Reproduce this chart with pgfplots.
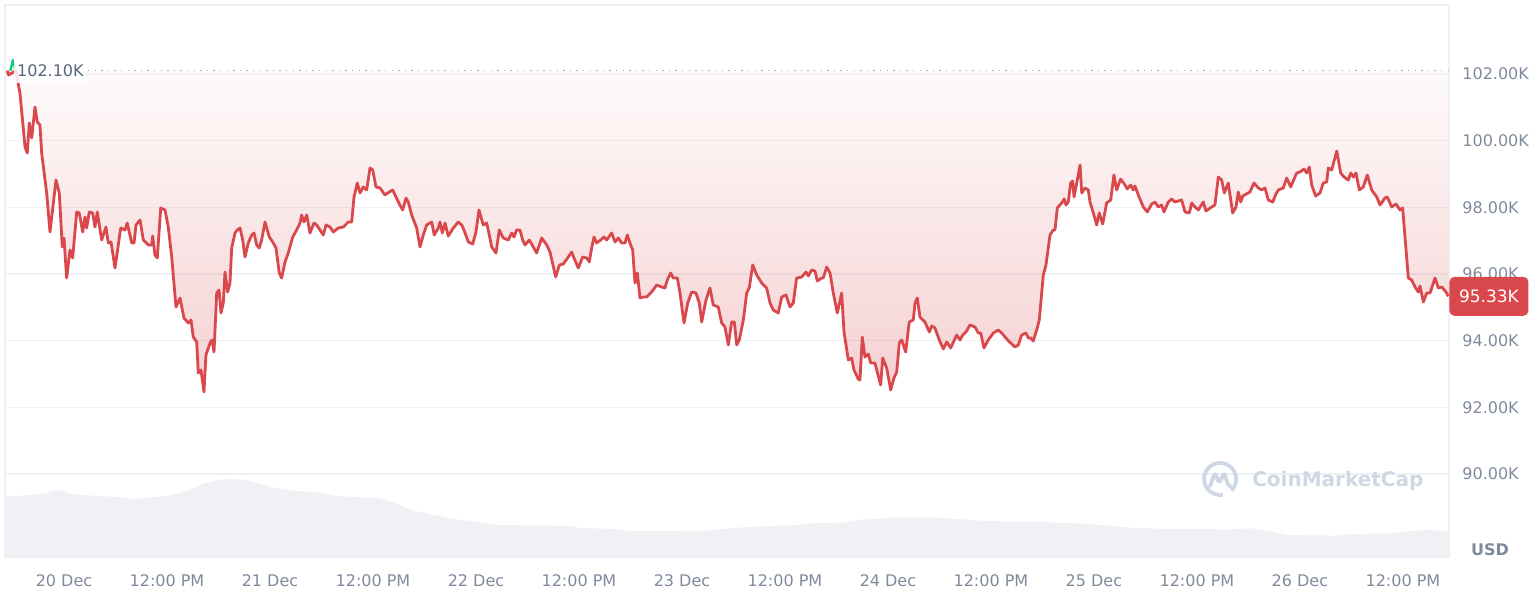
\documentclass[border=0pt]{standalone}
\usepackage{pgfplots}
\pgfplotsset{compat=1.18}
\usepackage{pgfplotstable}
\usepackage{fontspec}
\setmainfont{DejaVu Sans}

\definecolor{cmcred}{HTML}{D9484C}
\definecolor{cmcgreen}{HTML}{16C784}
\definecolor{ticktext}{HTML}{808A9D}
\definecolor{darktext}{HTML}{58667E}
\definecolor{gridc}{HTML}{EFF0F3}
\definecolor{volc}{HTML}{F0F1F5}
\definecolor{markc}{HTML}{CFD6E4}

% hours after 20 Dec 00:00, price in thousand USD
\pgfplotstableread{
h p
-6.62 102.10
-6.45 101.97
-5.62 102.10
-5.13 101.43
-4.54 99.81
-4.28 99.63
-4.04 100.53
-3.76 100.08
-3.38 101.01
-3.11 100.56
-2.80 100.47
-2.60 99.63
-2.02 98.43
-1.63 97.26
-0.93 98.82
-0.55 98.43
-0.20 96.81
0.00 97.08
0.31 95.88
0.70 96.72
1.01 96.48
1.48 97.86
1.78 97.83
2.18 97.26
2.45 97.71
2.64 97.38
2.95 97.86
3.34 97.83
3.61 97.41
3.88 97.86
4.39 97.02
4.89 97.41
5.16 96.93
5.48 96.96
5.94 96.18
6.61 97.38
7.11 97.32
7.37 97.53
7.89 96.93
8.16 96.93
8.39 97.47
8.86 97.62
9.24 97.02
9.82 96.87
10.22 96.87
10.33 97.14
10.60 96.57
10.87 96.48
11.27 97.98
11.77 97.92
12.15 97.41
12.55 96.51
13.05 95.01
13.52 95.28
13.98 94.68
14.48 94.53
14.80 94.62
15.06 94.11
15.46 93.96
15.65 93.03
15.96 93.12
16.31 92.46
16.54 93.57
17.01 93.93
17.24 94.02
17.48 93.66
17.79 95.43
18.06 95.52
18.29 94.83
18.56 95.13
18.76 96.06
19.07 95.46
19.34 95.73
19.54 96.78
19.92 97.23
20.19 97.32
20.51 97.38
20.82 97.02
21.09 96.51
21.47 96.93
21.87 97.17
22.14 97.23
22.45 96.87
22.75 96.78
23.03 97.02
23.42 97.56
23.92 97.11
24.32 96.96
24.70 96.78
25.08 96.03
25.36 95.88
25.75 96.36
26.13 96.63
26.65 97.11
27.11 97.32
27.50 97.53
27.69 97.77
27.96 97.56
28.28 97.77
28.66 97.23
29.13 97.53
29.44 97.47
29.83 97.32
30.21 97.17
30.53 97.47
30.99 97.41
31.38 97.26
31.96 97.38
32.54 97.41
33.12 97.56
33.52 97.56
33.79 98.31
34.17 98.73
34.49 98.43
34.87 98.61
35.27 98.52
35.65 99.18
35.97 99.12
36.35 98.61
36.82 98.58
37.40 98.37
37.90 98.46
38.30 98.52
38.95 98.16
39.46 97.92
39.85 98.28
40.11 98.16
40.51 97.77
41.09 97.38
41.48 96.81
41.86 97.17
42.26 97.47
42.84 97.56
43.14 97.17
43.61 97.38
43.81 97.56
44.08 97.23
44.39 97.53
44.77 97.14
45.36 97.38
45.94 97.56
46.34 97.47
46.60 97.32
47.11 96.96
47.62 96.90
48.00 97.26
48.35 97.92
48.85 97.47
49.25 97.53
49.55 97.17
49.83 96.81
50.33 96.63
50.72 97.32
51.18 97.08
51.77 97.02
52.16 97.23
52.43 97.11
52.74 97.32
53.13 97.32
53.44 97.02
53.71 96.87
54.21 97.02
54.68 96.81
55.07 96.63
55.66 97.08
56.24 96.87
56.62 96.66
57.29 95.91
57.71 96.27
58.17 96.30
58.76 96.51
59.15 96.66
59.42 96.48
59.92 96.18
60.43 96.51
60.90 96.48
61.20 96.36
61.48 96.78
61.75 97.11
62.06 96.93
62.53 97.02
62.92 97.11
63.23 97.02
63.81 97.23
64.20 96.96
64.58 97.08
64.98 96.93
65.36 96.93
65.63 97.17
65.94 96.93
66.26 96.72
66.53 95.73
66.80 96.03
67.11 95.28
67.49 95.31
67.89 95.31
68.47 95.46
69.05 95.67
69.64 95.61
70.02 95.58
70.29 95.82
70.69 96.03
70.99 95.88
71.46 95.88
71.77 95.43
72.24 94.53
72.67 95.13
73.13 95.46
73.63 95.43
74.02 95.13
74.30 94.56
74.80 95.22
75.26 95.58
75.65 95.07
76.23 95.01
76.63 94.53
77.01 94.41
77.40 93.87
77.79 94.56
78.10 94.56
78.38 93.87
78.68 94.02
79.15 94.62
79.54 95.43
79.84 95.58
80.24 96.27
80.71 95.97
81.29 95.73
81.87 95.58
82.26 95.13
82.64 94.92
83.22 94.83
83.62 95.31
84.12 95.37
84.59 95.01
84.97 95.13
85.36 95.88
85.95 95.91
86.45 96.06
86.72 95.94
87.11 96.12
87.50 96.09
87.77 95.79
88.28 95.88
88.47 95.88
88.86 96.21
89.25 96.03
89.63 95.43
90.10 94.83
90.61 95.43
90.88 94.26
91.38 93.42
91.77 93.48
92.04 93.12
92.54 92.85
92.74 92.82
93.01 94.11
93.32 93.51
93.71 93.60
93.99 93.33
94.49 93.33
94.69 93.12
95.15 92.67
95.39 93.48
95.85 93.18
96.32 92.52
96.70 92.88
97.02 93.06
97.32 93.93
97.60 94.02
98.07 93.66
98.48 94.56
98.95 94.62
99.15 95.13
99.42 95.28
99.73 94.71
100.31 94.56
100.82 94.26
101.10 94.44
101.48 94.38
101.98 94.02
102.45 93.75
102.85 93.96
103.31 93.78
104.01 94.17
104.39 94.02
104.71 94.17
105.09 94.26
105.56 94.47
106.14 94.41
106.53 94.23
106.81 94.23
107.19 93.78
107.69 94.02
108.28 94.23
108.86 94.32
109.25 94.23
109.84 94.05
110.30 93.93
110.80 93.81
111.19 93.87
111.58 94.17
112.08 94.23
112.35 94.08
112.63 94.08
112.93 93.99
113.33 94.32
113.63 94.62
114.10 95.97
114.41 96.27
114.88 97.17
115.26 97.32
115.46 97.32
115.73 97.98
116.24 98.13
116.54 98.25
116.74 98.07
117.01 98.16
117.29 98.73
117.52 98.79
117.68 98.31
118.06 98.82
118.38 99.27
118.58 98.43
118.96 98.58
119.34 98.52
119.54 98.16
120.00 97.77
120.32 97.47
120.62 97.83
121.02 97.50
121.48 98.13
121.95 98.22
122.33 98.97
122.65 98.52
123.11 98.85
123.62 98.67
123.88 98.55
124.28 98.67
124.58 98.52
124.78 98.64
125.17 98.37
125.75 98.01
126.22 97.86
126.73 98.10
127.11 98.16
127.50 98.01
127.89 98.07
128.16 97.86
128.66 98.16
129.06 98.25
129.44 98.16
130.22 98.22
130.61 97.86
131.11 97.83
131.39 98.13
131.77 98.01
132.16 97.92
132.74 98.16
133.05 97.89
133.72 98.01
134.10 98.07
134.49 98.91
134.88 98.82
135.19 98.43
135.65 98.73
136.16 97.83
136.55 98.01
136.82 98.46
137.10 98.16
137.33 98.34
138.18 98.46
138.65 98.73
139.15 98.58
139.54 98.52
139.93 98.58
140.31 98.22
140.83 98.16
141.21 98.40
141.48 98.52
142.06 98.58
142.46 98.88
142.92 98.61
143.62 99.03
144.00 99.06
144.47 99.15
144.78 99.03
145.09 99.21
145.37 98.67
145.83 98.34
146.34 98.43
146.72 98.73
147.12 98.76
147.31 99.18
147.70 99.12
148.29 99.69
148.75 99.03
149.13 98.91
149.64 98.82
149.92 99.03
150.22 98.91
150.53 99.03
150.92 98.52
151.38 98.61
151.85 98.97
152.36 98.52
152.95 98.31
153.33 98.07
153.91 98.28
154.18 98.31
154.69 98.01
155.19 98.10
155.66 97.92
155.97 97.98
156.24 97.11
156.63 95.88
157.02 95.82
157.41 95.61
157.79 95.46
157.99 95.64
158.38 95.16
158.77 95.43
159.16 95.43
159.74 95.88
160.13 95.58
160.52 95.61
161.02 95.46
161.29 95.33
}\price

% volume band, drawn in price units (top edge of the grey area)
\pgfplotstableread{
h v
-6.87 89.32
-3.96 89.37
-1.98 89.43
-1.40 89.52
0.00 89.50
0.58 89.40
2.33 89.37
4.02 89.34
6.29 89.31
8.33 89.25
9.20 89.28
10.91 89.31
12.58 89.37
14.65 89.52
16.08 89.70
17.79 89.82
18.94 89.85
21.21 89.82
22.37 89.74
24.70 89.58
26.98 89.49
29.24 89.46
31.57 89.34
33.87 89.31
36.70 89.28
38.45 89.13
40.78 88.90
43.05 88.77
45.32 88.65
47.65 88.57
50.51 88.47
59.07 88.44
60.24 88.38
64.31 88.35
66.00 88.29
74.57 88.30
78.06 88.38
79.81 88.41
85.71 88.47
87.38 88.53
90.88 88.54
92.59 88.62
94.30 88.65
97.17 88.70
101.77 88.69
104.04 88.65
106.93 88.60
110.92 88.57
114.41 88.57
115.54 88.54
119.54 88.50
123.58 88.40
128.16 88.35
136.20 88.34
138.50 88.37
140.22 88.30
142.49 88.17
148.26 88.15
149.36 88.19
154.57 88.22
156.30 88.27
158.57 88.32
161.37 88.30
}\volume

\begin{document}
\begin{tikzpicture}
\useasboundingbox (-2.5pt,-28.5pt) rectangle (767.5pt,278.5pt);
\begin{axis}[
  at={(0pt,0pt)}, anchor=south west,
  scale only axis,
  width=722pt, height=276pt,
  xmin=-6.874, xmax=161.37,
  ymin=87.51, ymax=104.07,
  axis line style={gridc, line width=0.8pt},
  xtick={0,12,...,156},
  xticklabels={20 Dec,12:00 PM,21 Dec,12:00 PM,22 Dec,12:00 PM,23 Dec,12:00 PM,24 Dec,12:00 PM,25 Dec,12:00 PM,26 Dec,12:00 PM},
  ytick={90,92,...,102},
  yticklabels={90.00K,92.00K,94.00K,96.00K,98.00K,100.00K,102.00K},
  yticklabel pos=right,
  major tick length=0pt,
  ymajorgrids,
  grid style={gridc, line width=0.8pt},
  /pgf/number format/assume math mode=true,
  tick label style={font=\fontsize{8}{9}\selectfont, text=ticktext},
  xticklabel style={anchor=center, yshift=-12pt},
  yticklabel style={anchor=west, inner sep=0pt, xshift=6.5pt},
]
  % volume
  \addplot[draw=none, fill=volc] table[x=h, y=v] {\volume} \closedcycle;

  % open price reference
  \draw[ticktext!75, line width=0.7pt, dash pattern=on 0.7pt off 2.6pt]
    (axis cs:2.8,102.1) -- (axis cs:161.37,102.1);

  % shaded area between price and open
  \addplot[draw=none, top color=cmcred!10, bottom color=cmcred, fill opacity=0.25]
    table[x=h, y=p] {\price} -- (axis cs:161.29,102.1) -- cycle;

  % green part above open
  \addplot[cmcgreen, line width=1.2pt, line join=round] coordinates {
    (-6.25,102.10) (-5.95,102.42) (-5.62,102.10)};

  % price line
  \addplot[cmcred, line width=1.4pt, line join=round] table[x=h, y=p] {\price};

  \node[anchor=west, fill=white, fill opacity=0.85, text opacity=1, text=darktext,
        inner xsep=1pt, inner ysep=3pt, minimum width=36pt,
        font=\fontsize{8}{9}\selectfont] at (axis cs:-5.82,102.1) {102.10K};

  \node[anchor=base west, inner sep=0pt, text=markc,
        font=\bfseries\fontsize{10}{12}\selectfont] at (axis cs:138.4,89.61) {CoinMarketCap};

  \coordinate (endp) at (axis cs:161.37,95.33);
  \coordinate (logo) at (axis cs:134.7,89.85);
\end{axis}

\node[anchor=west, fill=cmcred, rounded corners=2.5pt, text=white, inner sep=0pt,
      minimum width=39.5pt, minimum height=19.5pt,
      font=\fontsize{8.5}{10}\selectfont] at (endp) {95.33K};

\node[text=ticktext, font=\bfseries\fontsize{8}{9}\selectfont] at (742.5pt,3.5pt) {USD};

\begin{scope}[shift={(logo)}]
  \draw[markc, line width=1.9pt] (-45:8pt) arc[start angle=-45, end angle=280, radius=8pt];
  \draw[markc, line width=1.9pt, line cap=round, line join=round, rounded corners=1.2pt]
    (-5pt,-3.5pt) -- (-2.6pt,3pt) -- (-0.4pt,-2pt) -- (2pt,3pt) -- (4pt,-3pt) -- (5.5pt,-4pt);
\end{scope}
\end{tikzpicture}
\end{document}
